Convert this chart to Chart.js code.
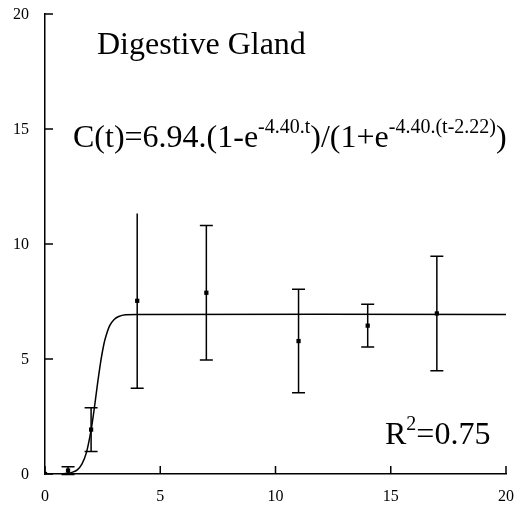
<!DOCTYPE html>
<html>
<head>
<meta charset="utf-8">
<script src="https://cdn.jsdelivr.net/npm/chart.js@4/dist/chart.umd.min.js"></script>
<style>
  html, body { margin: 0; padding: 0; background: #fff; }
  #chart { display: block; }
</style>
</head>
<body>
<canvas id="chart" width="520" height="511"></canvas>
<script>
// ---------- data ----------
const sampleTimes = [0, 1, 2, 4, 7, 11, 14, 17];
const sampleMeans = [0, 0.15, 1.93, 7.53, 7.88, 5.78, 6.45, 6.98];
const sampleErrors = [0, 0.17, 0.95, 3.8, 2.92, 2.25, 0.93, 2.49];
const sampleTopCap = [false, true, true, false, true, true, true, true];

const fitTimes = [0, 0.5, 1, 1.2, 1.4, 1.6, 1.8, 2.0, 2.1, 2.2, 2.3, 2.4, 2.5, 2.6, 2.8, 3.0, 3.2, 3.5, 4, 20];
const fitValues = [0, 0, 0.03, 0.08, 0.18, 0.43, 0.94, 1.91, 2.57, 3.32, 4.08, 4.78, 5.37, 5.84, 6.44, 6.72, 6.85, 6.92, 6.94, 6.94];

const xTicks = [0, 5, 10, 15, 20];
const yTicks = [0, 5, 10, 15, 20];

const SERIF = '"Liberation Serif", "Times New Roman", serif';

// ---------- helpers ----------
function drawRich(ctx, x, y, parts, size, supSize, rise) {
  let cx = x;
  parts.forEach(p => {
    ctx.font = (p.sup ? supSize : size) + 'px ' + SERIF;
    ctx.fillText(p.text, cx, p.sup ? y - rise : y);
    cx += ctx.measureText(p.text).width;
  });
}

// ---------- plugin: axis ticks + labels, error bars, annotations ----------
const figurePlugin = {
  id: 'figure',
  afterDatasetsDraw(chart) {
    const ctx = chart.ctx;
    const xs = chart.scales.x, ys = chart.scales.y;
    ctx.save();
    ctx.strokeStyle = '#000';
    ctx.fillStyle = '#000';

    // inward tick marks
    ctx.lineWidth = 1.5;
    ctx.beginPath();
    xTicks.forEach(v => {
      const px = xs.getPixelForValue(v);
      ctx.moveTo(px, ys.bottom); ctx.lineTo(px, ys.bottom - 8);
    });
    yTicks.forEach(v => {
      const py = ys.getPixelForValue(v);
      ctx.moveTo(xs.left, py); ctx.lineTo(xs.left + 8, py);
    });
    ctx.stroke();

    // tick labels
    ctx.font = '16px ' + SERIF;
    ctx.textBaseline = 'middle';
    ctx.textAlign = 'center';
    xTicks.forEach(v => ctx.fillText(String(v), xs.getPixelForValue(v), ys.bottom + 23));
    ctx.textAlign = 'right';
    yTicks.forEach(v => ctx.fillText(String(v), xs.left - 16, ys.getPixelForValue(v) + 1));

    // error bars
    ctx.lineWidth = 1.5;
    ctx.beginPath();
    sampleTimes.forEach((t, i) => {
      const e = sampleErrors[i];
      if (!e) return;
      const px = xs.getPixelForValue(t);
      const top = ys.getPixelForValue(sampleMeans[i] + e);
      const bot = ys.getPixelForValue(sampleMeans[i] - e);
      ctx.moveTo(px, top); ctx.lineTo(px, bot);
      ctx.moveTo(px - 6.5, bot); ctx.lineTo(px + 6.5, bot);
      if (sampleTopCap[i]) { ctx.moveTo(px - 6.5, top); ctx.lineTo(px + 6.5, top); }
    });
    ctx.stroke();

    // annotations
    ctx.textBaseline = 'alphabetic';
    ctx.textAlign = 'left';
    drawRich(ctx, 97, 54, [{ text: 'Digestive Gland' }], 32, 20, 0);
    drawRich(ctx, 73, 147, [
      { text: 'C(t)=6.94.(1-e' },
      { text: '-4.40.t', sup: true },
      { text: ')/(1+e' },
      { text: '-4.40.(t-2.22)', sup: true },
      { text: ')' }
    ], 32, 20, 14);
    drawRich(ctx, 385, 444, [
      { text: 'R' },
      { text: '2', sup: true },
      { text: '=0.75' }
    ], 32, 20, 14);
    ctx.restore();
  }
};

// ---------- chart ----------
const ctx = document.getElementById('chart').getContext('2d');
new Chart(ctx, {
  type: 'scatter',
  data: {
    datasets: [
      {
        label: 'fit',
        data: fitTimes.map((t, i) => ({ x: t, y: fitValues[i] })),
        showLine: true,
        borderColor: '#000',
        borderWidth: 1.5,
        pointRadius: 0,
        tension: 0.2
      },
      {
        label: 'samples',
        data: sampleTimes.map((t, i) => ({ x: t, y: sampleMeans[i] })),
        showLine: false,
        pointStyle: 'rect',
        pointRadius: 3,
        backgroundColor: '#000',
        borderColor: '#000',
        borderWidth: 0
      }
    ]
  },
  options: {
    responsive: false,
    animation: false,
    layout: { padding: { top: 14, right: 14, left: 0, bottom: 0 } },
    plugins: { legend: { display: false }, tooltip: { enabled: false } },
    scales: {
      x: {
        type: 'linear', min: 0, max: 20,
        afterFit(scale) { scale.height = 37; },
        grid: { display: false, drawTicks: false },
        border: { display: true, color: '#000', width: 1.5 },
        ticks: { display: false }
      },
      y: {
        type: 'linear', min: 0, max: 20,
        afterFit(scale) { scale.width = 45; },
        grid: { display: false, drawTicks: false },
        border: { display: true, color: '#000', width: 1.5 },
        ticks: { display: false }
      }
    }
  },
  plugins: [figurePlugin]
});
</script>
</body>
</html>
